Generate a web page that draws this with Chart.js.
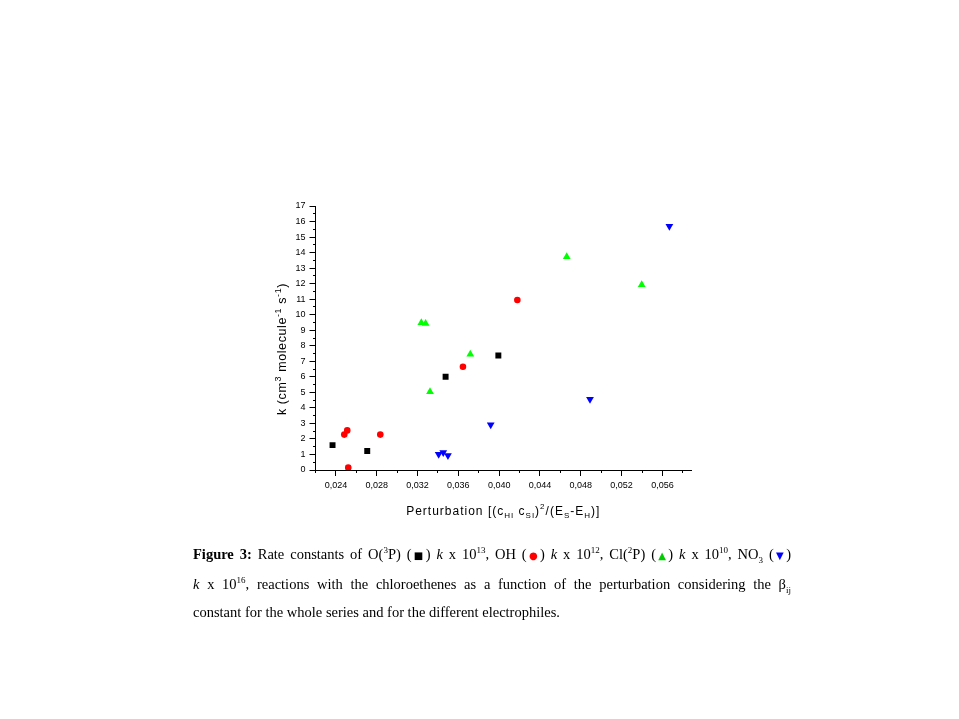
<!DOCTYPE html>
<html>
<head>
<meta charset="utf-8">
<script src="https://cdn.jsdelivr.net/npm/chart.js@4/dist/chart.umd.min.js"></script>
<style>
  html, body { margin: 0; padding: 0; background: #fff; }
  #wrap { position: absolute; left: 0; top: 0; width: 959px; height: 719px; }
  .cap { position: absolute; left: 193px; top: 540px; width: 598px;
         font: 14.5px "Liberation Serif", "Times New Roman", serif; line-height: 28px; color: #000; }
  .j { text-align: justify; text-align-last: justify; white-space: nowrap; }
  .cap sup, .cap sub { font-size: 9px; line-height: 0; }
  .mk { font-family: "DejaVu Sans", sans-serif; font-size: 10px; }
</style>
</head>
<body>
<div id="wrap"><canvas id="chart" width="959" height="719"></canvas></div>
<div class="cap">
  <div class="j"><b>Figure 3:</b> Rate constants of O(<sup>3</sup>P) (<span class="mk">■</span>) <i>k</i> x 10<sup>13</sup>, OH (<span class="mk" style="color:#f00">●</span>) <i>k</i> x 10<sup>12</sup>, Cl(<sup>2</sup>P) (<span class="mk" style="color:#0c0">▲</span>) <i>k</i> x 10<sup>10</sup>, NO<sub>3</sub> (<span class="mk" style="color:#00f">▼</span>)</div>
  <div class="j"><i>k</i> x 10<sup>16</sup>, reactions with the chloroethenes as a function of the perturbation considering the β<sub>ij</sub></div>
  <div>constant for the whole series and for the different electrophiles.</div>
</div>
<script>
(function() {
  // perturbation (x) and rate constant (y) per electrophile
  const o3pX = [0.02367, 0.02707, 0.03475, 0.03992];
  const o3pY = [1.6, 1.22, 6.0, 7.37];
  const ohX = [0.02482, 0.02511, 0.02521, 0.02835, 0.03645, 0.04178];
  const ohY = [2.28, 2.55, 0.15, 2.28, 6.65, 10.95];
  const clX = [0.03237, 0.03279, 0.03322, 0.03717, 0.04662, 0.05397];
  const clY = [9.49, 9.44, 5.04, 7.45, 13.74, 11.93];
  const no3X = [0.03407, 0.03452, 0.03498, 0.03917, 0.04890, 0.05668];
  const no3Y = [1.01, 1.12, 0.94, 2.92, 4.55, 15.69];

  const xMajor = [0.024, 0.028, 0.032, 0.036, 0.040, 0.044, 0.048, 0.052, 0.056];
  const xMinor = [0.022, 0.026, 0.030, 0.034, 0.038, 0.042, 0.046, 0.050, 0.054, 0.058];
  const yMajor = [0, 1, 2, 3, 4, 5, 6, 7, 8, 9, 10, 11, 12, 13, 14, 15, 16, 17];
  const yMinor = [0.5, 1.5, 2.5, 3.5, 4.5, 5.5, 6.5, 7.5, 8.5, 9.5, 10.5, 11.5, 12.5, 13.5, 14.5, 15.5, 16.5];

  const X_MIN = 0.022, X_MAX = 0.0588, Y_MIN = 0, Y_MAX = 17;

  function pts(xs, ys) {
    return xs.map((x, i) => ({ x: x, y: ys[i] }));
  }

  function setTicks(list) {
    return function(axis) { axis.ticks = list.map(v => ({ value: v })); };
  }

  // draws a run of text pieces, some raised or lowered
  function drawRich(ctx, parts, x, y, spacing) {
    let cx = x;
    parts.forEach(p => {
      ctx.font = p.size + 'px "Liberation Sans", Arial, sans-serif';
      ctx.letterSpacing = spacing + 'px';
      ctx.fillText(p.t, cx, y + (p.dy || 0));
      cx += ctx.measureText(p.t).width;
    });
    return cx - x;
  }
  function richWidth(ctx, parts, spacing) {
    let w = 0;
    parts.forEach(p => {
      ctx.font = p.size + 'px "Liberation Sans", Arial, sans-serif';
      ctx.letterSpacing = spacing + 'px';
      w += ctx.measureText(p.t).width;
    });
    return w;
  }

  const yTitle = [
    { t: 'k (cm', size: 12.5 }, { t: '3', size: 9, dy: -5 }, { t: ' molecule', size: 12.5 },
    { t: '-1', size: 9, dy: -5 }, { t: ' s', size: 12.5 }, { t: '-1', size: 9, dy: -5 }, { t: ')', size: 12.5 }
  ];
  const xTitle = [
    { t: 'Perturbation [(c', size: 12 }, { t: 'HI', size: 8, dy: 3 }, { t: ' c', size: 12 },
    { t: 'SI', size: 8, dy: 3 }, { t: ')', size: 12 }, { t: '2', size: 8, dy: -6 },
    { t: '/(E', size: 12 }, { t: 'S', size: 8, dy: 3 }, { t: '-E', size: 12 },
    { t: 'H', size: 8, dy: 3 }, { t: ')]', size: 12 }
  ];

  const titlesPlugin = {
    id: 'axisTitles',
    afterDraw(chart) {
      const ctx = chart.ctx;
      ctx.save();
      ctx.fillStyle = '#000';
      ctx.textBaseline = 'alphabetic';
      ctx.textAlign = 'left';
      const xw = richWidth(ctx, xTitle, 1);
      const cxm = (chart.chartArea.left + chart.chartArea.right) / 2;
      drawRich(ctx, xTitle, cxm - xw / 2, 515, 1);
      const yw = richWidth(ctx, yTitle, 0.6);
      ctx.translate(286, 349);
      ctx.rotate(-Math.PI / 2);
      drawRich(ctx, yTitle, -yw / 2, 0, 0.6);
      ctx.restore();
    }
  };

  const tickFont = { family: '"Liberation Sans", Arial, sans-serif', size: 9 };

  var ctx = document.getElementById('chart').getContext('2d');

  new Chart(ctx, {
    type: 'scatter',
    data: {
      datasets: [
        {
          label: 'O(3P)',
          data: pts(o3pX, o3pY),
          pointStyle: 'rect',
          pointRadius: 4.2,
          borderWidth: 0,
          backgroundColor: '#000000',
          borderColor: '#000000'
        },
        {
          label: 'OH',
          data: pts(ohX, ohY),
          pointStyle: 'circle',
          pointRadius: 3.3,
          borderWidth: 0,
          backgroundColor: '#ff0000',
          borderColor: '#ff0000'
        },
        {
          label: 'Cl(2P)',
          data: pts(clX, clY),
          pointStyle: 'triangle',
          pointRadius: 4.5,
          borderWidth: 0,
          backgroundColor: '#00ff00',
          borderColor: '#00ff00'
        },
        {
          label: 'NO3',
          data: pts(no3X, no3Y),
          pointStyle: 'triangle',
          rotation: 180,
          pointRadius: 4.5,
          borderWidth: 0,
          backgroundColor: '#0000ff',
          borderColor: '#0000ff'
        }
      ]
    },
    options: {
      responsive: false,
      animation: false,
      layout: { padding: { left: 270, top: 206, right: 268, bottom: 209 } },
      plugins: {
        legend: { display: false },
        tooltip: { enabled: false }
      },
      scales: {
        x: {
          type: 'linear',
          position: 'bottom',
          min: X_MIN,
          max: X_MAX,
          afterBuildTicks: setTicks(xMajor),
          afterFit: function(s) { s.height = 40; },
          border: { display: true, color: '#000', width: 1 },
          grid: { drawOnChartArea: false, drawTicks: true, tickLength: 6, color: '#000' },
          ticks: {
            font: tickFont, color: '#000', padding: 4, maxRotation: 0, autoSkip: false,
            callback: v => v.toFixed(3).replace('.', ',')
          }
        },
        xm: {
          type: 'linear',
          position: { y: 0 },
          min: X_MIN,
          max: X_MAX,
          afterBuildTicks: setTicks(xMinor),
          border: { display: false },
          grid: { drawOnChartArea: false, drawTicks: true, tickLength: 3, color: '#000' },
          ticks: { display: false }
        },
        y: {
          type: 'linear',
          position: 'left',
          min: Y_MIN,
          max: Y_MAX,
          afterBuildTicks: setTicks(yMajor),
          afterFit: function(s) { s.width = 45.5; },
          border: { display: true, color: '#000', width: 1 },
          grid: { drawOnChartArea: false, drawTicks: true, tickLength: 6, color: '#000' },
          ticks: { font: tickFont, color: '#000', padding: 4, autoSkip: false }
        },
        ym: {
          type: 'linear',
          position: { x: X_MIN },
          min: Y_MIN,
          max: Y_MAX,
          afterBuildTicks: setTicks(yMinor),
          border: { display: false },
          grid: { drawOnChartArea: false, drawTicks: true, tickLength: 3, color: '#000' },
          ticks: { display: false }
        }
      }
    },
    plugins: [titlesPlugin]
  });
})();
</script>
</body>
</html>
